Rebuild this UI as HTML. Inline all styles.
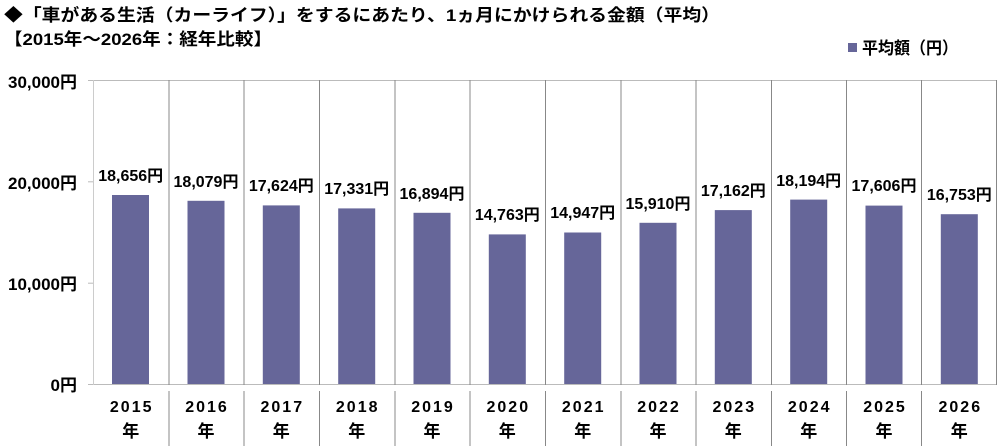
<!DOCTYPE html>
<html><head><meta charset="utf-8"><style>
html,body{margin:0;padding:0;background:#fff;}
svg{display:block;}
text{font-family:"Liberation Sans","Noto Sans CJK JP",sans-serif;font-weight:bold;fill:#000;}
</style></head><body>
<svg width="1000" height="446" viewBox="0 0 1000 446" xmlns="http://www.w3.org/2000/svg">
<text x="4" y="21" font-size="17" textLength="716" lengthAdjust="spacingAndGlyphs">◆「車がある生活（カーライフ）」をするにあたり、1ヵ月にかけられる金額（平均）</text>
<text x="4" y="45" font-size="17" textLength="268" lengthAdjust="spacingAndGlyphs">【2015年～2026年：経年比較】</text>
<rect x="848" y="43" width="9" height="9" fill="#666699"/>
<text x="862" y="54" font-size="17" textLength="96" lengthAdjust="spacingAndGlyphs">平均額（円）</text>
<line x1="88" y1="80.5" x2="997" y2="80.5" stroke="#bbb" stroke-width="1"/>
<line x1="88" y1="384.5" x2="997" y2="384.5" stroke="#bbb" stroke-width="1"/>
<line x1="88" y1="181.8" x2="93" y2="181.8" stroke="#bbb"/>
<line x1="88" y1="283.2" x2="93" y2="283.2" stroke="#bbb"/>
<line x1="93.5" y1="80" x2="93.5" y2="385" stroke="#ccc"/>
<g stroke="#888" stroke-width="1">
<line x1="169" y1="80" x2="169" y2="385"/><line x1="244" y1="80" x2="244" y2="385"/>
<line x1="319.5" y1="80" x2="319.5" y2="385"/><line x1="395" y1="80" x2="395" y2="385"/>
<line x1="470" y1="80" x2="470" y2="385"/><line x1="545.5" y1="80" x2="545.5" y2="385"/>
<line x1="621" y1="80" x2="621" y2="385"/><line x1="696" y1="80" x2="696" y2="385"/>
<line x1="771.5" y1="80" x2="771.5" y2="385"/><line x1="846.5" y1="80" x2="846.5" y2="385"/>
<line x1="921.5" y1="80" x2="921.5" y2="385"/><line x1="996.5" y1="80" x2="996.5" y2="385"/>
<line x1="169" y1="391" x2="169" y2="446"/><line x1="244" y1="391" x2="244" y2="446"/>
<line x1="319.5" y1="391" x2="319.5" y2="446"/><line x1="395" y1="391" x2="395" y2="446"/>
<line x1="470" y1="391" x2="470" y2="446"/><line x1="545.5" y1="391" x2="545.5" y2="446"/>
<line x1="621" y1="391" x2="621" y2="446"/><line x1="696" y1="391" x2="696" y2="446"/>
<line x1="771.5" y1="391" x2="771.5" y2="446"/><line x1="846.5" y1="391" x2="846.5" y2="446"/>
<line x1="921.5" y1="391" x2="921.5" y2="446"/>
</g>
<g font-size="17" text-anchor="end">
<text x="77" y="88">30,000円</text>
<text x="77" y="189">20,000円</text>
<text x="77" y="290">10,000円</text>
<text x="77" y="391">0円</text>
</g>
<g fill="#666699">
<rect x="112" y="195" width="37" height="189"/>
<rect x="187.5" y="200.8" width="37" height="183.2"/>
<rect x="262.8" y="205.4" width="37" height="178.6"/>
<rect x="338.2" y="208.4" width="37" height="175.6"/>
<rect x="413.5" y="212.8" width="37" height="171.2"/>
<rect x="488.8" y="234.4" width="37" height="149.6"/>
<rect x="564.2" y="232.5" width="37" height="151.5"/>
<rect x="639.5" y="222.8" width="37" height="161.2"/>
<rect x="714.8" y="210.1" width="37" height="173.9"/>
<rect x="790.2" y="199.6" width="37" height="184.4"/>
<rect x="865.5" y="205.6" width="37" height="178.4"/>
<rect x="940.8" y="214.2" width="37" height="169.8"/>
</g>
<g font-size="16" text-anchor="middle">
<text x="130.7" y="181">18,656円</text>
<text x="206" y="187">18,079円</text>
<text x="281.3" y="191">17,624円</text>
<text x="356.7" y="194">17,331円</text>
<text x="432" y="199">16,894円</text>
<text x="507.3" y="220">14,763円</text>
<text x="582.7" y="218">14,947円</text>
<text x="658" y="209">15,910円</text>
<text x="733.3" y="196">17,162円</text>
<text x="808.7" y="186">18,194円</text>
<text x="884" y="191">17,606円</text>
<text x="959.3" y="200">16,753円</text>
</g>
<g font-size="16" text-anchor="middle" letter-spacing="2">
<text x="131.7" y="412">2015</text><text x="207" y="412">2016</text><text x="282.3" y="412">2017</text>
<text x="357.7" y="412">2018</text><text x="433" y="412">2019</text><text x="508.3" y="412">2020</text>
<text x="583.7" y="412">2021</text><text x="659" y="412">2022</text><text x="734.3" y="412">2023</text>
<text x="809.7" y="412">2024</text><text x="885" y="412">2025</text><text x="960.3" y="412">2026</text>
</g>
<g font-size="17" text-anchor="middle">
<text x="130.7" y="437">年</text><text x="206" y="437">年</text><text x="281.3" y="437">年</text>
<text x="356.7" y="437">年</text><text x="432" y="437">年</text><text x="507.3" y="437">年</text>
<text x="582.7" y="437">年</text><text x="658" y="437">年</text><text x="733.3" y="437">年</text>
<text x="808.7" y="437">年</text><text x="884" y="437">年</text><text x="959.3" y="437">年</text>
</g>
</svg>
</body></html>
